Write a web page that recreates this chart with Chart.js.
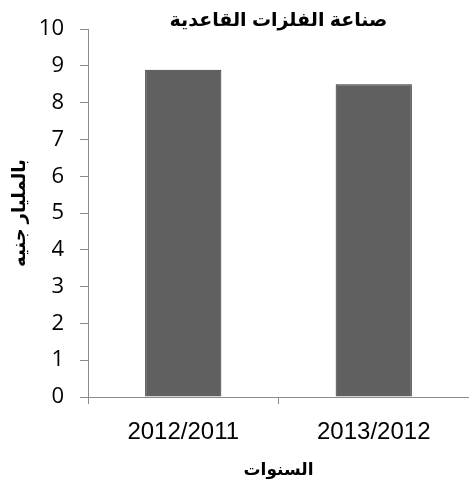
<!DOCTYPE html>
<html>
<head>
<meta charset="utf-8">
<script src="https://cdn.jsdelivr.net/npm/chart.js@4"></script>
<style>
  html, body { margin: 0; padding: 0; background: #fff; }
  #wrap { width: 469px; height: 481px; }
</style>
</head>
<body>
<div id="wrap"><canvas id="myChart" width="469" height="481"></canvas></div>
<script>
// data
const years = ['2012/2011', '2013/2012'];
const values = [8.9, 8.5];
const yTicks = [0, 1, 2, 3, 4, 5, 6, 7, 8, 9, 10];

const chartTitle = 'صناعة الفلزات القاعدية';
const yTitle = 'بالمليار جنيه';
const xTitle = 'السنوات';

// title drawn over the plot area, the way the original sits
const titlePlugin = {
    id: 'topTitle',
    afterDraw(chart) {
        const ctx = chart.ctx;
        const area = chart.chartArea;
        ctx.save();
        ctx.font = 'bold 19px "Liberation Sans", Arial, "DejaVu Sans", sans-serif';
        ctx.fillStyle = '#000';
        ctx.textAlign = 'center';
        ctx.textBaseline = 'middle';
        ctx.fillText(chartTitle, (area.left + area.right) / 2, 21);
        ctx.restore();
    }
};

const config = {
    type: 'bar',
    data: {
        labels: years,
        datasets: [{
            data: values,
            backgroundColor: '#606060',
            borderColor: '#2e2e2e',
            borderWidth: 1,
            barPercentage: 0.4,
            categoryPercentage: 1.0
        }]
    },
    options: {
        responsive: false,
        animation: false,
        layout: { padding: { top: 28, right: 0, left: 4, bottom: 0 } },
        plugins: {
            legend: { display: false },
            tooltip: { enabled: false }
        },
        scales: {
            x: {
                offset: true,
                afterFit(axis) { axis.height = 84; },
                grid: {
                    display: true,
                    offset: true,
                    drawOnChartArea: false,
                    color: '#8c8c8c',
                    tickLength: 7
                },
                border: { color: '#8c8c8c', width: 1 },
                ticks: {
                    color: '#000',
                    padding: 14,
                    maxRotation: 0,
                    font: { family: '"Liberation Sans", Arial, sans-serif', size: 24 }
                },
                title: {
                    display: true,
                    text: xTitle,
                    color: '#000',
                    padding: 0,
                    font: { family: '"Liberation Sans", Arial, "DejaVu Sans", sans-serif', size: 17, weight: 'bold' }
                }
            },
            y: {
                min: 0,
                max: 10,
                afterFit(axis) { axis.width = 84; },
                afterBuildTicks(axis) {
                    axis.ticks = yTicks.map(v => ({ value: v }));
                },
                grid: {
                    display: true,
                    drawOnChartArea: false,
                    color: '#8c8c8c',
                    tickLength: 8
                },
                border: { color: '#8c8c8c', width: 1 },
                ticks: {
                    color: '#000',
                    padding: 16,
                    font: { family: '"Open Sans", "Liberation Sans", sans-serif', size: 22 }
                },
                title: {
                    display: true,
                    text: yTitle,
                    color: '#000',
                    padding: { top: 5, bottom: 0 },
                    font: { family: '"Liberation Sans", Arial, "DejaVu Sans", sans-serif', size: 18, weight: 'bold' }
                }
            }
        }
    },
    plugins: [titlePlugin]
};

const myChart = new Chart(document.getElementById('myChart'), config);
</script>
</body>
</html>
